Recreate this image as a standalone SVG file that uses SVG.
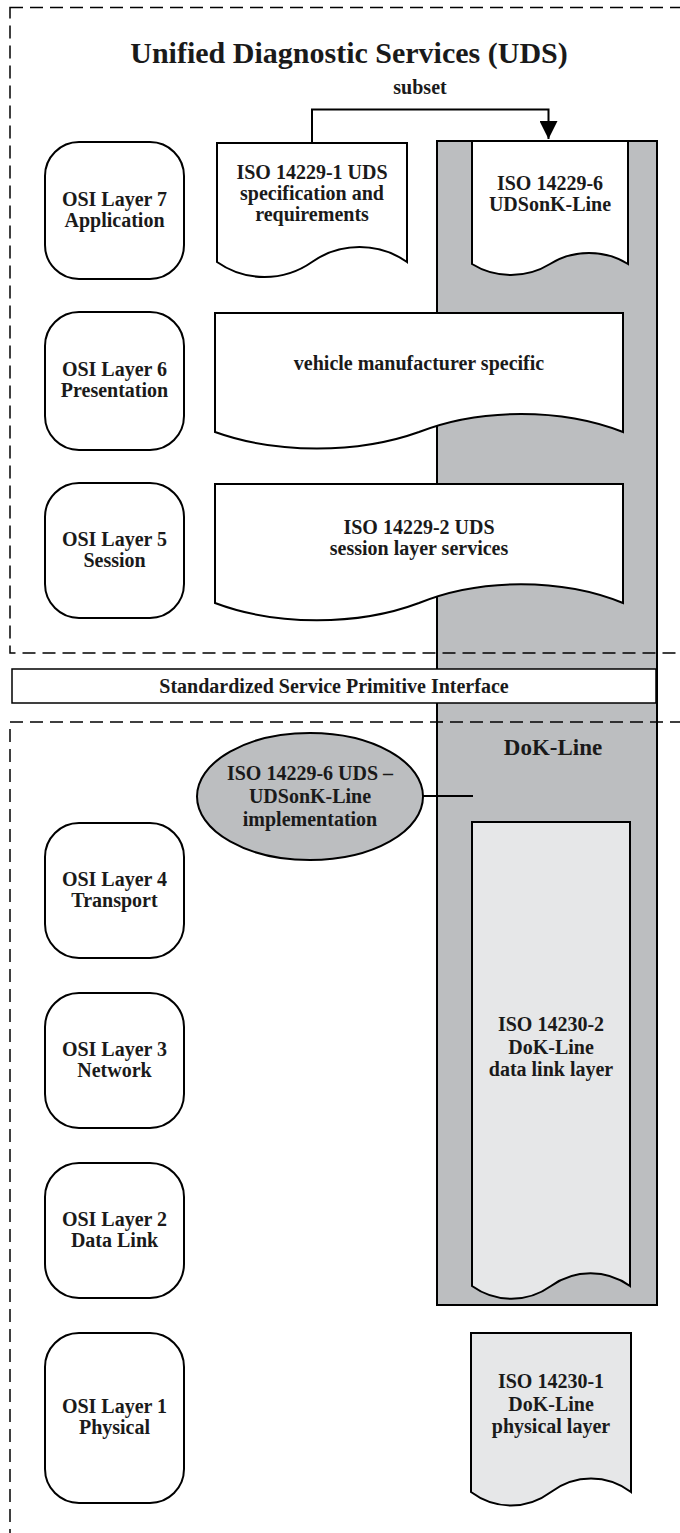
<svg xmlns="http://www.w3.org/2000/svg" width="680" height="1533" viewBox="0 0 680 1533">
<defs>
<style>
text{font-family:"Liberation Serif","DejaVu Serif",serif;font-weight:bold;fill:#1a1a1a;text-anchor:middle;font-size:20px}
.layer{fill:#fff;stroke:#000;stroke-width:2}
.doc{fill:#fff;stroke:#000;stroke-width:2;stroke-linejoin:miter}
.docg{fill:#e6e7e8;stroke:#000;stroke-width:2}
.dash{fill:none;stroke:#000;stroke-width:1.5;stroke-dasharray:13 7}
.col{fill:#bcbec0;stroke:#000;stroke-width:2}
.conn{fill:none;stroke:#000;stroke-width:2}
</style>
<marker id="arr" viewBox="0 0 10 10" refX="10" refY="5" markerWidth="18" markerHeight="18" orient="auto" markerUnits="userSpaceOnUse">
<path d="M0,0 L10,5 L0,10 Z" fill="#000"/>
</marker>
</defs>
<rect width="680" height="1533" fill="#fff"/>

<g id="dokline-column">
<rect class="col" x="437" y="141" width="220" height="1164"/>
<text x="553" y="755" style="font-size:23px">DoK-Line</text>
</g>

<g id="frames">
<rect class="dash" x="10" y="7.5" width="700" height="645.5"/>
<rect class="dash" x="10" y="722" width="700" height="840"/>
</g>

<g id="title">
<text x="349" y="63" style="font-size:30px">Unified Diagnostic Services (UDS)</text>
</g>

<g id="sspi">
<rect x="12" y="669" width="644" height="34" fill="#fff" stroke="#000" stroke-width="1.5"/>
<text x="334" y="693">Standardized Service Primitive Interface</text>
</g>

<g id="layer7"><rect class="layer" x="45" y="142" width="139" height="137" rx="34" ry="34"/><text x="114.5" y="206">OSI Layer 7</text><text x="114.5" y="227">Application</text></g>
<g id="layer6"><rect class="layer" x="45" y="312" width="139" height="138" rx="34" ry="34"/><text x="114.5" y="376">OSI Layer 6</text><text x="114.5" y="397">Presentation</text></g>
<g id="layer5"><rect class="layer" x="45" y="483" width="139" height="135" rx="34" ry="34"/><text x="114.5" y="546">OSI Layer 5</text><text x="114.5" y="567">Session</text></g>
<g id="layer4"><rect class="layer" x="45" y="823" width="139" height="135" rx="34" ry="34"/><text x="114.5" y="886">OSI Layer 4</text><text x="114.5" y="907">Transport</text></g>
<g id="layer3"><rect class="layer" x="45" y="993" width="139" height="135" rx="34" ry="34"/><text x="114.5" y="1056">OSI Layer 3</text><text x="114.5" y="1077">Network</text></g>
<g id="layer2"><rect class="layer" x="45" y="1163" width="139" height="135" rx="34" ry="34"/><text x="114.5" y="1226">OSI Layer 2</text><text x="114.5" y="1247">Data Link</text></g>
<g id="layer1"><rect class="layer" x="45" y="1333" width="139" height="170" rx="34" ry="34"/><text x="114.5" y="1413">OSI Layer 1</text><text x="114.5" y="1434">Physical</text></g>

<g id="iso14229-1">
<path class="doc" d="M217,143 H407 V262 C378.5,242 340.5,242 312,262 C283.5,282 245.5,282 217,262 Z"/>
<text x="312" y="179">ISO 14229-1 UDS</text><text x="312" y="200">specification and</text><text x="312" y="221">requirements</text>
</g>

<g id="iso14229-6">
<path class="doc" d="M472,141 H628 V264 C604.6,249.4 573.4,249.4 550,264 C526.6,278.6 495.4,278.6 472,264 Z"/>
<text x="550" y="190">ISO 14229-6</text><text x="550" y="211">UDSonK-Line</text>
</g>

<g id="vehicle-specific">
<path class="doc" d="M215,313 H623 V432 C561.8,408 480.2,408 419,432 C357.8,454 276.2,454 215,432 Z"/>
<text x="419" y="370">vehicle manufacturer specific</text>
</g>

<g id="iso14229-2">
<path class="doc" d="M215,484 H623 V603 C561.8,578 480.2,578 419,603 C357.8,626 276.2,626 215,603 Z"/>
<text x="419" y="534">ISO 14229-2 UDS</text><text x="419" y="555">session layer services</text>
</g>

<g id="uds-on-kline-impl">
<ellipse cx="310" cy="796.5" rx="113" ry="63.5" fill="#bcbec0" stroke="#000" stroke-width="2"/>
<text x="310" y="780">ISO 14229-6 UDS –</text><text x="310" y="803">UDSonK-Line</text><text x="310" y="826">implementation</text>
</g>

<g id="iso14230-2">
<path class="docg" d="M472,822 H630 V1286 C606.3,1269 574.7,1269 551,1286 C527.3,1303 495.7,1303 472,1286 Z"/>
<text x="551" y="1031">ISO 14230-2</text><text x="551" y="1054">DoK-Line</text><text x="551" y="1076">data link layer</text>
</g>

<g id="iso14230-1">
<path class="docg" d="M471,1333 H631 V1492 C607,1474 575,1474 551,1492 C527,1510 495,1510 471,1492 Z"/>
<text x="551" y="1388">ISO 14230-1</text><text x="551" y="1411">DoK-Line</text><text x="551" y="1433">physical layer</text>
</g>

<g id="connectors">
<path class="conn" d="M312,143 V109.5 H548.5 V139" marker-end="url(#arr)"/>
<text x="420" y="94">subset</text>
<line class="conn" x1="423" y1="796" x2="473" y2="796"/>
</g>
</svg>
